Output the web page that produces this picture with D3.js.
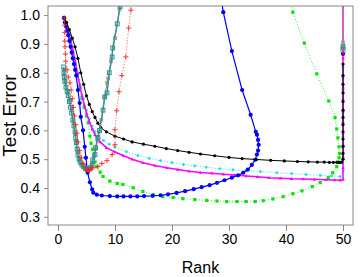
<!DOCTYPE html>
<html><head><meta charset="utf-8">
<script src="https://cdn.jsdelivr.net/npm/d3@7"></script>
<style>body{margin:0;background:#fff}svg{display:block}</style>
</head><body><svg id="c" width="360" height="277"></svg>
<script>
const xTicks=[0,10,20,30,40,50];
const yTicks=[0.3,0.4,0.5,0.6,0.7,0.8,0.9,1.0];
const xLabel="Rank", yLabel="Test Error";

const greenPts=[[1.1,0.99],[1.4,0.97],[1.8,0.94],[2.2,0.91],[2.6,0.87],[3.0,0.83],[3.4,0.79],[3.8,0.75],[4.2,0.71],[4.6,0.68],[5.0,0.65],[5.3,0.626],[5.6,0.58],[5.8,0.555],[6.1,0.533],[6.3,0.516],[6.5,0.49],[6.8,0.474],[7.4,0.455],[7.9,0.44],[9.1,0.424],[10.4,0.416],[11.4,0.412],[13.2,0.401],[14.9,0.388],[16.7,0.377],[18.4,0.37],[20.2,0.367],[21.9,0.363],[24.0,0.36],[26.1,0.357],[27.9,0.355],[29.6,0.353],[31.4,0.353],[33.0,0.353],[34.6,0.353],[36.0,0.356],[37.7,0.362],[39.5,0.37],[41.2,0.38],[42.8,0.39],[44.6,0.405],[46.0,0.419],[47.4,0.436],[48.2,0.453],[48.9,0.474],[49.1,0.49],[49.3,0.505],[49.4,0.52],[49.3,0.543],[49.1,0.574],[48.9,0.605],[48.6,0.645],[47.5,0.702],[45.4,0.796],[43.2,0.903],[41.2,1.01],[40.8,1.06]];

const cyanPts=[[1.1,0.99],[1.5,0.965],[2.0,0.93],[2.5,0.89],[3.0,0.85],[3.5,0.80],[4.0,0.75],[4.5,0.71],[5.0,0.67],[5.5,0.64],[6.0,0.615],[6.5,0.595],[7.0,0.58],[8.0,0.565],[9.0,0.552],[10.0,0.542],[12.0,0.526],[14.0,0.513],[16.0,0.503],[18.0,0.495],[20.0,0.488],[22.0,0.482],[24.0,0.477],[26.0,0.472],[28.4,0.467],[30.7,0.463],[33.0,0.46],[35.5,0.457],[38.4,0.453],[41.0,0.45],[43.5,0.447],[46.0,0.444],[48.0,0.442],[49.5,0.44],[50,0.46],[50,0.50],[50,0.54],[50,0.58],[50,0.62],[50,0.66],[50,0.70],[50,0.74],[50,0.78],[50,0.82]];

const magentaPts=[[1.1,0.99],[1.4,0.97],[1.8,0.945],[2.2,0.915],[2.6,0.88],[3.0,0.84],[3.4,0.80],[3.8,0.76],[4.2,0.72],[4.6,0.69],[5.0,0.66],[5.5,0.63],[6.0,0.605],[6.5,0.585],[7.0,0.57],[7.4,0.56],[8.5,0.54],[10.0,0.525],[11.4,0.513],[13.0,0.50],[14.9,0.488],[17.0,0.478],[19.1,0.47],[21.0,0.464],[23.0,0.458],[25.0,0.454],[27.0,0.451],[29.0,0.448],[31.0,0.445],[33.0,0.442],[35.0,0.439],[37.0,0.436],[39.0,0.434],[41.0,0.432],[43.0,0.431],[45.0,0.43],[47.0,0.429],[48.5,0.428],[49.5,0.427],[50,0.43],[50,0.47],[50,0.51],[50,0.55],[50,0.59],[50,0.63],[50,0.67],[50,0.71],[50,0.75],[50,0.79],[50,0.85],[50,1.2]];

const bluePts=[[1.05,0.99],[1.2,0.975],[1.4,0.96],[1.6,0.945],[1.8,0.93],[2.0,0.91],[2.2,0.89],[2.4,0.87],[2.6,0.85],[2.8,0.83],[3.0,0.81],[3.2,0.79],[3.5,0.74],[3.8,0.695],[4.0,0.647],[4.4,0.60],[4.7,0.543],[4.9,0.505],[5.2,0.453],[5.6,0.42],[6.0,0.395],[6.2,0.384],[6.8,0.377],[7.7,0.374],[9.1,0.372],[10.4,0.371],[11.5,0.371],[12.7,0.371],[13.9,0.371],[15.1,0.372],[16.6,0.373],[18.0,0.375],[19.3,0.378],[20.8,0.383],[22.3,0.389],[23.8,0.396],[25.2,0.403],[26.6,0.41],[27.9,0.418],[29.2,0.427],[30.5,0.436],[31.6,0.444],[32.5,0.453],[33.3,0.464],[34.0,0.48],[34.6,0.498],[34.9,0.516],[35.1,0.53],[35.2,0.55],[35.1,0.567],[34.9,0.585],[34.7,0.595],[33.8,0.654],[32.3,0.74],[30.5,0.875],[29.0,1.01],[28.6,1.06],null,[50,0.865]];

const blackPts=[[1.1,0.99],[1.5,0.975],[2.0,0.95],[2.5,0.92],[3.0,0.89],[3.5,0.85],[4.0,0.80],[4.5,0.76],[5.0,0.72],[5.5,0.69],[6.0,0.665],[6.5,0.645],[7.0,0.625],[7.5,0.61],[8.5,0.595],[10.0,0.58],[11.5,0.57],[13.0,0.56],[15.0,0.552],[17.0,0.545],[19.0,0.537],[21.0,0.53],[23.0,0.524],[25.0,0.518],[27.5,0.512],[30.0,0.506],[32.3,0.502],[34.8,0.499],[37.3,0.496],[39.7,0.494],[42.0,0.492],[43.9,0.491],[45.5,0.49],[46.7,0.49],[47.6,0.489],[48.3,0.489],[48.9,0.489],[49.3,0.489],[49.6,0.489],[49.8,0.49],[50,0.50],[50,0.52],[50,0.545],[50,0.57],[50,0.595],[50,0.62],[50,0.645],[50,0.67],[50,0.70],[50,0.73],[50,0.76],[50,0.79],[50,0.83]];

const tanPts=[[1.05,0.81],[1.3,0.77],[1.75,0.735],[2.1,0.705],[2.4,0.67],[2.7,0.63],[3.0,0.59],[3.2,0.56],[3.45,0.525],[3.75,0.50],[4.1,0.485],[4.5,0.474],[4.9,0.467],[5.3,0.466],[5.7,0.472],[6.0,0.485],[6.3,0.51],[6.6,0.535],[6.9,0.565],[7.2,0.595],[7.6,0.637],[8.2,0.716],[8.6,0.765],[8.8,0.78],[9.3,0.84],[10.0,0.92],[10.8,1.02],[11.5,1.2],[50,1.2],[50,0.905],[50,0.895]];

const tealPts=[[1.0,0.82],[1.05,0.80],[1.1,0.785],[1.2,0.77],[1.4,0.75],[1.6,0.735],[1.8,0.72],[2.0,0.70],[2.2,0.68],[2.4,0.66],[2.6,0.636],[2.8,0.615],[3.0,0.595],[3.1,0.575],[3.2,0.557],[3.35,0.535],[3.5,0.515],[3.7,0.50],[3.9,0.49],[4.2,0.48],[4.5,0.474],[4.8,0.468],[5.1,0.464],[5.4,0.465],[5.7,0.47],[6.0,0.48],[6.1,0.498],[6.5,0.516],[6.6,0.54],[7.0,0.575],[7.3,0.60],[7.9,0.67],[8.2,0.716],[8.6,0.73],[9.0,0.80],[9.5,0.855],[9.6,0.886],[10.4,0.97],[10.9,1.03],null,[50,0.89],[50,0.882]];

const redPts=[[1.1,0.99],[1.15,0.965],[1.2,0.94],[1.2,0.91],[1.25,0.89],[1.3,0.865],[1.35,0.84],[1.6,0.81],[1.8,0.785],[2.1,0.765],[2.3,0.74],[2.5,0.71],[2.7,0.68],[2.9,0.65],[3.1,0.62],[3.3,0.59],[3.5,0.56],[3.8,0.53],[4.1,0.505],[4.4,0.485],[4.8,0.47],[5.1,0.464],[5.3,0.461],[5.5,0.462],[5.8,0.466],[6.1,0.47],[7.0,0.474],[7.7,0.485],[8.6,0.495],[9.5,0.516],[10.0,0.55],[10.0,0.602],[10.3,0.668],[10.7,0.734],[11.2,0.79],[11.9,0.855],[12.4,0.955],[12.8,1.017],[13.0,1.06],null,[50,0.87]];

const W=360,H=277,L=48,R=353,T=6,B=225;
const svg=d3.select("#c");
const x=d3.scaleLinear().domain([-1.75,51.75]).range([L,R]);
const y=d3.scaleLinear().domain([0.2717,1.0315]).range([B,T]);

svg.append("defs").append("clipPath").attr("id","clip").append("rect")
  .attr("x",L).attr("y",T).attr("width",R-L).attr("height",B-T);

const font="Liberation Sans, Arial, sans-serif";
const gx=svg.append("g").attr("transform",`translate(0,${B})`)
  .call(d3.axisBottom(x).tickValues(xTicks).tickSize(6).tickPadding(3).tickFormat(d3.format("d")));
const gy=svg.append("g").attr("transform",`translate(${L},0)`)
  .call(d3.axisLeft(y).tickValues(yTicks).tickSize(4).tickPadding(4).tickFormat(d3.format(".1f")));
[gx,gy].forEach(g=>{
  g.select(".domain").remove();
  g.selectAll("line").attr("stroke","#888");
  g.selectAll("text").attr("font-family",font).attr("font-size",14).attr("fill","#000");
});
svg.append("rect").attr("x",L).attr("y",T).attr("width",R-L).attr("height",B-T)
  .attr("fill","none").attr("stroke","#888").attr("stroke-width",1);

svg.append("text").attr("x",(L+R)/2).attr("y",273).attr("text-anchor","middle")
  .attr("font-family",font).attr("font-size",16).text(xLabel);
svg.append("text").attr("transform",`translate(16,${(T+B)/2}) rotate(-90)`).attr("text-anchor","middle")
  .attr("font-family",font).attr("font-size",19).text(yLabel);

const plot=svg.append("g").attr("clip-path","url(#clip)");
const line=d3.line().defined(d=>d!==null).x(d=>x(d[0])).y(d=>y(d[1]));

function series(pts,opt){
  plot.append("path").attr("d",line(pts)).attr("fill","none")
    .attr("stroke",opt.lineColor||opt.color).attr("stroke-width",opt.lw||1)
    .attr("stroke-dasharray",opt.dash||null).attr("opacity",opt.lineOpacity||1);
  const p=pts.filter(d=>d!==null && d[1]<1.04);
  const g=plot.append("g");
  p.forEach(d=>{
    const cx=x(d[0]), cy=y(d[1]), s=opt.size;
    if(opt.shape==="circle") g.append("circle").attr("cx",cx).attr("cy",cy).attr("r",s).attr("fill",opt.color);
    else if(opt.shape==="square") g.append("rect").attr("x",cx-s).attr("y",cy-s).attr("width",2*s).attr("height",2*s)
      .attr("fill",opt.fill||opt.color).attr("stroke",opt.stroke||"none").attr("stroke-width",1).attr("opacity",opt.opacity||1);
    else if(opt.shape==="triangle") g.append("path").attr("d",`M${cx},${cy-s}L${cx+s},${cy+s*0.75}L${cx-s},${cy+s*0.75}Z`).attr("fill",opt.color);
    else if(opt.shape==="diamond") g.append("path").attr("d",`M${cx},${cy-s}L${cx+s},${cy}L${cx},${cy+s}L${cx-s},${cy}Z`).attr("fill",opt.color);
    else if(opt.shape==="plus") g.append("path").attr("d",`M${cx-s},${cy}H${cx+s}M${cx},${cy-s}V${cy+s}`).attr("stroke",opt.color).attr("stroke-width",1).attr("opacity",opt.opacity||1);
  });
}

series(greenPts,{color:"#00e600",lineColor:"#33ee33",dash:"1,2",shape:"square",size:1.6});
series(cyanPts,{color:"#22e0ee",dash:"1,2",shape:"diamond",size:1.8});
series(magentaPts,{color:"#ff00ff",lw:1.5,shape:"triangle",size:1.7});
series(bluePts,{color:"#0000ff",lw:1.2,shape:"circle",size:2.1});
series(blackPts,{color:"#000000",lw:1,shape:"circle",size:1.6});
series(tanPts,{color:"#9a8878",lw:1,shape:"square",size:1.9,fill:"#a89888",opacity:0.9});
series(tealPts,{color:"#2a8f8f",lineColor:"#3a9494",lw:1.5,shape:"square",size:1.9,fill:"none",stroke:"#2a8f8f"});
series(redPts,{color:"#ff2020",lineColor:"#ff5050",dash:"1,2",shape:"plus",size:2.6,opacity:0.9});
</script></body></html>
